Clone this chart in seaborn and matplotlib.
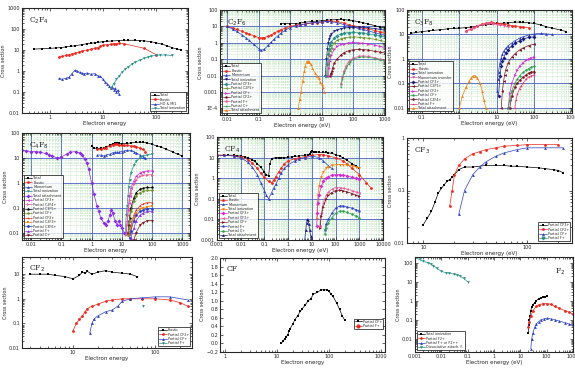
import matplotlib
matplotlib.use("Agg")
import math
import matplotlib.pyplot as plt
from matplotlib.ticker import FuncFormatter, LogLocator, NullFormatter
import seaborn as sns

# ---- C2F4 ----
C2F4_TOTAL_E = [0.5, 0.7, 1, 1.3, 1.6, 2, 2.5, 3, 4, 5, 6, 7, 8, 10, 12, 15, 20, 25, 30, 40, 50, 60, 80, 100, 130, 160, 200, 250, 300]
C2F4_TOTAL_CS = [11, 11.5, 12, 12.5, 13, 14, 15, 16, 18, 20, 21, 22, 23, 25, 26, 27, 28, 29, 29, 29, 28, 27, 25, 22, 19, 16, 13, 11, 10]
C2F4_ELASTIC_E = [1.5, 1.7, 2, 2.3, 2.6, 3, 3.5, 4, 5, 6, 7, 8, 9, 10, 12, 14, 16, 18, 20, 25, 60, 100]
C2F4_ELASTIC_CS = [4.8, 5, 5.5, 6, 6.5, 7, 8, 9, 10, 11, 12, 13, 15, 17, 18, 19, 20, 20, 21, 20, 12, 6]
C2F4_HO_E = [1.5, 1.7, 2, 2.3, 2.6, 3, 3.3, 3.7, 4, 4.5, 5, 6, 7, 8, 9, 10, 11, 12, 13, 14, 15, 16, 17, 18, 19, 20]
C2F4_HO_CS = [0.45, 0.4, 0.45, 0.5, 0.75, 1.1, 1.0, 0.85, 0.8, 0.75, 0.8, 0.7, 0.75, 0.6, 0.55, 0.4, 0.3, 0.25, 0.2, 0.15, 0.18, 0.13, 0.15, 0.1, 0.12, 0.08]
C2F4_ION_E = [14, 16, 18, 20, 23, 26, 30, 35, 40, 50, 60, 70, 80, 100, 120, 150, 200]
C2F4_ION_CS = [0.15, 0.25, 0.4, 0.55, 0.9, 1.2, 1.6, 2.1, 2.6, 3.3, 4, 4.6, 5, 5.6, 5.8, 5.8, 5.5]

# ---- C2F6 ----
C2F6_TOTAL_E = [0.5, 0.7, 1, 1.5, 2, 3, 5, 7, 10, 15, 20, 30, 40, 50, 70, 100, 150, 200, 300, 500, 700, 1000]
C2F6_TOTAL_CS = [15, 15, 15, 15, 16, 18, 20, 21, 22, 24, 25, 26, 27, 26, 24, 22, 19, 17, 14, 11, 9, 8]
C2F6_ELASTIC_E = [0.01, 0.015, 0.02, 0.03, 0.04, 0.05, 0.07, 0.1, 0.13, 0.15, 0.2, 0.25, 0.3, 0.4, 0.5, 0.7, 1, 1.5, 2, 3, 5, 7, 10, 15, 20, 30, 50, 70, 100, 150, 200, 300, 500, 700, 1000]
C2F6_ELASTIC_CS = [10, 8, 6.5, 5, 4, 3.4, 2.7, 2.1, 2.0, 2.1, 2.5, 3, 3.8, 5, 6.3, 8, 10, 12, 13, 14, 16, 17, 18, 20, 21, 20, 16, 13, 11, 9.5, 8, 7, 5.5, 4.8, 4]
C2F6_MOM_E = [0.01, 0.015, 0.02, 0.03, 0.04, 0.05, 0.07, 0.1, 0.12, 0.15, 0.2, 0.25, 0.3, 0.4, 0.5, 0.7, 1, 1.5, 2, 3, 5, 7, 10, 15, 20, 30, 50, 70, 100, 150, 200, 300, 500, 700, 1000]
C2F6_MOM_CS = [10, 7, 5, 3, 2, 1.4, 0.8, 0.45, 0.35, 0.4, 0.7, 1.1, 1.6, 2.6, 3.8, 6, 8.5, 11, 12.5, 14, 17, 18, 19, 20, 19, 17, 13, 11, 9, 7.5, 6.5, 5.3, 4, 3.4, 3]
C2F6_ION_E = [13, 14, 15, 16, 17, 18, 20, 25, 30, 40, 50, 70, 100, 150, 200, 300, 500, 700, 1000]
C2F6_ION_CS = [0.01, 0.1, 0.4, 1, 1.7, 2.5, 3.5, 5, 6, 7.3, 8, 8.5, 9, 9, 8.8, 8.3, 7.3, 6.5, 6]
C2F6_CF3_E = [14, 15, 16, 17, 18, 20, 25, 30, 40, 50, 70, 100, 150, 200, 300, 500, 700, 1000]
C2F6_CF3_CS = [0.01, 0.05, 0.2, 0.45, 0.7, 1.1, 2, 2.7, 3.5, 3.9, 4.2, 4.3, 4.2, 4, 3.6, 3, 2.6, 2.3]
C2F6_C2F5_E = [15, 16, 17, 18, 20, 25, 30, 40, 50, 70, 100, 150, 200, 300, 500, 700, 1000]
C2F6_C2F5_CS = [0.01, 0.05, 0.15, 0.3, 0.5, 1, 1.4, 1.8, 2, 2.2, 2.3, 2.2, 2.1, 1.9, 1.6, 1.4, 1.2]
C2F6_CF_E = [16, 17, 18, 20, 25, 30, 40, 50, 70, 100, 150, 200, 300, 500, 700, 1000]
C2F6_CF_CS = [0.01, 0.03, 0.08, 0.18, 0.4, 0.6, 0.8, 0.9, 1.0, 1.05, 1.0, 0.95, 0.85, 0.7, 0.6, 0.5]
C2F6_CF2_E = [18, 19, 20, 21, 22, 25, 30, 40, 50, 70, 100, 150, 200, 300, 500, 700, 1000]
C2F6_CF2_CS = [0.01, 0.012, 0.015, 0.02, 0.03, 0.06, 0.1, 0.18, 0.25, 0.33, 0.38, 0.4, 0.39, 0.36, 0.3, 0.27, 0.24]
C2F6_F_E = [40, 45, 50, 60, 70, 80, 100, 150, 200, 300, 500, 700, 1000]
C2F6_F_CS = [0.003, 0.008, 0.02, 0.04, 0.07, 0.09, 0.12, 0.15, 0.16, 0.15, 0.12, 0.1, 0.09]
C2F6_C_E = [40, 45, 50, 60, 70, 80, 100, 150, 200, 300, 500, 700, 1000]
C2F6_C_CS = [0.002, 0.006, 0.014, 0.03, 0.05, 0.07, 0.1, 0.13, 0.14, 0.13, 0.11, 0.09, 0.08]
C2F6_ATT_E = [1.8, 2, 2.2, 2.5, 2.8, 3, 3.3, 3.6, 4, 4.5, 5, 6, 7, 8, 9, 10, 11, 12]
C2F6_ATT_CS = [1e-4, 4e-4, 0.001, 0.005, 0.02, 0.04, 0.07, 0.08, 0.07, 0.05, 0.03, 0.015, 0.01, 0.007, 0.004, 0.003, 0.002, 0.001]

# ---- C3F8 ----
C3F8_TOTAL_E = [0.05, 0.07, 0.1, 0.15, 0.2, 0.3, 0.5, 0.7, 1, 1.5, 2, 3, 5, 7, 10, 15, 20, 30, 40, 50, 70, 100, 150, 200, 300, 500, 700]
C3F8_TOTAL_CS = [11, 12, 13, 14, 14.5, 15.5, 17, 17.5, 18, 19, 20, 22, 25, 27, 28, 29, 30, 32, 32, 31, 30, 28, 24, 21, 18, 15, 13]
C3F8_ELASTIC_E = [1.5, 2, 2.5, 3, 4, 5, 6, 7, 8, 10, 12, 15, 20, 25, 30, 40, 50, 70]
C3F8_ELASTIC_CS = [14, 17, 20, 23, 26, 28, 30, 31, 30, 28, 27, 26, 24, 23, 22, 21, 20, 19]
C3F8_MOM_E = [1.5, 2, 2.5, 3, 4, 5, 6, 7, 8, 10, 12, 15, 20]
C3F8_MOM_CS = [13, 16, 19, 22, 25, 27, 28, 28, 27, 25, 24, 23, 20]
C3F8_ION_E = [10, 10.5, 11, 12, 13, 14, 15, 17, 20, 25, 30, 40, 50, 70, 100, 150, 200, 300]
C3F8_ION_CS = [0.05, 0.15, 0.3, 0.7, 1.1, 1.6, 2, 2.7, 3.5, 4.5, 5.5, 7, 8, 9.5, 10.5, 11, 10.5, 10]
C3F8_CF3_E = [11, 12, 13, 14, 15, 17, 20, 25, 30, 40, 50, 70, 100]
C3F8_CF3_CS = [0.03, 0.2, 0.5, 0.8, 1.1, 1.7, 2.4, 3.4, 4.3, 5.5, 6.5, 7.5, 8]
C3F8_C2F5_E = [13, 14, 15, 16, 17, 20, 25, 30, 40, 50, 70, 100]
C3F8_C2F5_CS = [0.01, 0.05, 0.12, 0.22, 0.35, 0.7, 1.2, 1.6, 2.3, 2.8, 3.5, 4]
C3F8_CF2_E = [20, 22, 25, 30, 35, 40, 50, 60, 70, 80, 100]
C3F8_CF2_CS = [0.01, 0.04, 0.1, 0.22, 0.35, 0.5, 0.7, 0.9, 1.0, 1.1, 1.2]
C3F8_CF_E = [20, 22, 25, 30, 35, 40, 50, 60, 70, 80, 100]
C3F8_CF_CS = [0.01, 0.02, 0.05, 0.1, 0.15, 0.2, 0.28, 0.35, 0.4, 0.45, 0.5]
C3F8_C2F4_E = [22, 25, 30, 35, 40, 50, 60, 70, 80, 100]
C3F8_C2F4_CS = [0.01, 0.03, 0.07, 0.1, 0.13, 0.18, 0.22, 0.26, 0.28, 0.3]
C3F8_F_E = [30, 32, 35, 40, 45, 50, 60, 70, 80, 100]
C3F8_F_CS = [0.01, 0.02, 0.035, 0.06, 0.08, 0.1, 0.15, 0.18, 0.2, 0.22]
C3F8_ATT_E = [1, 1.2, 1.5, 1.8, 2, 2.3, 2.6, 3, 3.5, 4, 4.5, 5]
C3F8_ATT_CS = [0.01, 0.03, 0.07, 0.12, 0.16, 0.2, 0.2, 0.17, 0.1, 0.05, 0.02, 0.01]

# ---- c-C4F8 ----
C4F8_MOM_E = [0.005, 0.007, 0.01, 0.015, 0.02, 0.03, 0.04, 0.05, 0.07, 0.1, 0.15, 0.2, 0.3, 0.4, 0.5, 0.6, 0.7, 0.8, 1, 1.2, 1.5, 1.7, 2, 2.5, 3, 3.5, 4, 4.5, 5, 6, 7, 8, 9, 10, 12]
C4F8_MOM_CS = [20, 19, 18, 18, 17, 15, 13, 12, 10, 11, 14, 17, 18, 16, 13, 9, 6, 3.5, 1, 0.35, 0.12, 0.07, 0.04, 0.025, 0.02, 0.03, 0.05, 0.08, 0.06, 0.03, 0.02, 0.03, 0.02, 0.015, 0.01]
C4F8_TOTAL_E = [1, 1.2, 1.5, 2, 2.5, 3, 4, 5, 6, 7, 8, 10, 15, 20, 30, 40, 50, 70, 100, 150, 200, 300, 500, 700, 1000]
C4F8_TOTAL_CS = [30, 25, 24, 24, 25, 27, 32, 37, 40, 40, 38, 37, 38, 40, 42, 43, 42, 40, 35, 30, 27, 22, 17, 14, 12]
C4F8_ELASTIC_E = [1.5, 2, 2.5, 3, 4, 5, 6, 7, 8, 10, 12, 15, 20, 25, 30, 40, 50, 60]
C4F8_ELASTIC_CS = [22, 22, 24, 26, 30, 34, 36, 35, 33, 32, 32, 32, 30, 30, 28, 25, 22, 18]
C4F8_VIB_E = [1.5, 2, 2.5, 3, 4, 5, 6, 7, 8, 10, 12, 15, 20, 25, 30, 40, 50, 60]
C4F8_VIB_CS = [13, 13, 12, 13, 14, 16, 17, 17, 17, 18, 19, 20, 20, 18, 16, 13, 11, 10]
C4F8_ION_E = [13, 14, 15, 16, 17, 18, 20, 25, 30, 40, 50, 70, 100]
C4F8_ION_CS = [0.01, 0.05, 0.12, 0.3, 0.7, 1.3, 2.5, 5, 7.5, 10, 12, 13, 14]
C4F8_P1_E = [14, 15, 16, 17, 18, 20, 25, 30, 40, 50, 70, 100]
C4F8_P1_CS = [0.01, 0.03, 0.08, 0.15, 0.3, 0.6, 1.2, 1.8, 2.5, 2.8, 3, 3]
C4F8_P2_E = [14, 15, 16, 17, 18, 20, 25, 30, 40, 50, 70, 100]
C4F8_P2_CS = [0.008, 0.02, 0.05, 0.1, 0.2, 0.4, 0.9, 1.3, 1.8, 2, 2.1, 2.1]
C4F8_P3_E = [16, 17, 18, 20, 25, 30, 40, 50, 70, 100]
C4F8_P3_CS = [0.01, 0.02, 0.04, 0.1, 0.25, 0.4, 0.55, 0.6, 0.65, 0.65]
C4F8_P4_E = [16, 17, 18, 20, 25, 30, 40, 50, 70, 100]
C4F8_P4_CS = [0.008, 0.015, 0.03, 0.07, 0.18, 0.3, 0.4, 0.45, 0.5, 0.5]
C4F8_P5_E = [18, 20, 25, 30, 40, 50, 70, 100]
C4F8_P5_CS = [0.01, 0.02, 0.05, 0.08, 0.12, 0.14, 0.16, 0.16]
C4F8_P6_E = [18, 20, 25, 30, 40, 50, 70, 100]
C4F8_P6_CS = [0.008, 0.015, 0.04, 0.06, 0.09, 0.1, 0.11, 0.12]
C4F8_P7_E = [18, 20, 25, 30, 40, 50, 70, 100]
C4F8_P7_CS = [0.006, 0.012, 0.03, 0.05, 0.07, 0.08, 0.09, 0.09]
C4F8_P8_E = [20, 25, 30, 40, 50, 70, 100]
C4F8_P8_CS = [0.006, 0.015, 0.03, 0.05, 0.06, 0.07, 0.07]
C4F8_P9_E = [25, 30, 40, 50, 70, 100]
C4F8_P9_CS = [0.005, 0.01, 0.02, 0.025, 0.03, 0.03]

# ---- CF4 ----
CF4_TOTAL_E = [0.001, 0.002, 0.003, 0.005, 0.007, 0.01, 0.015, 0.02, 0.03, 0.04, 0.05, 0.07, 0.1, 0.12, 0.15, 0.17, 0.2, 0.3, 0.4, 0.5, 0.7, 1, 1.5, 2, 3, 5, 7, 8, 9, 10, 12, 15, 20, 30, 40, 50, 70, 100, 150, 200, 300, 500, 700, 1000]
CF4_TOTAL_CS = [13, 13, 13, 13, 12.5, 12, 11, 10, 8, 6.5, 5, 3.5, 2, 1.5, 1.3, 5, 9, 10, 10, 10, 10, 10.5, 11, 11.5, 12, 13, 14, 15, 19, 20, 19, 19, 18, 18, 18, 17, 16, 14, 12, 10, 7.5, 5, 4, 3]
CF4_ELASTIC_E = [0.001, 0.002, 0.005, 0.01, 0.02, 0.03, 0.05, 0.07, 0.1, 0.15, 0.2, 0.25, 0.3, 0.4, 0.5, 0.7, 1, 2, 3, 5, 10, 20, 30, 50, 100, 200, 300, 500, 1000, 2000, 3000]
CF4_ELASTIC_CS = [13, 13, 12.5, 11, 8, 5.5, 3, 1.8, 1.1, 0.7, 0.6, 0.8, 1.2, 2, 3, 5, 7, 9, 10, 11, 13, 14, 14, 12, 10, 7, 5, 3, 1.5, 0.6, 0.35]
CF4_MOM_E = [0.001, 0.002, 0.005, 0.01, 0.02, 0.03, 0.05, 0.07, 0.1, 0.12, 0.15, 0.2, 0.25, 0.3, 0.4, 0.5, 0.7, 1, 2, 3, 5, 10, 20, 30, 50, 70]
CF4_MOM_CS = [13, 13, 12, 10, 6, 3.5, 1.5, 0.6, 0.25, 0.15, 0.1, 0.2, 0.35, 0.5, 1, 1.8, 3, 4.5, 7, 8.5, 10, 12, 10, 7, 4, 3]
CF4_ION_E = [16, 17, 18, 20, 25, 30, 40, 50, 70, 100, 150, 200, 300, 500, 700, 1000]
CF4_ION_CS = [0.01, 0.05, 0.15, 0.4, 1.2, 2, 3, 3.6, 4.2, 4.5, 4.6, 4.6, 4.4, 4, 3.6, 3.2]
CF4_CF3_E = [16, 17, 18, 20, 25, 30, 40, 50, 70, 100, 150, 200, 300, 500, 700, 1000]
CF4_CF3_CS = [0.005, 0.02, 0.06, 0.15, 0.4, 0.7, 1.0, 1.2, 1.4, 1.5, 1.5, 1.4, 1.3, 1.1, 1.0, 0.9]
CF4_CF2_E = [22, 25, 30, 40, 50, 70, 100, 150, 200, 300, 500, 700, 1000]
CF4_CF2_CS = [0.005, 0.02, 0.06, 0.15, 0.22, 0.3, 0.35, 0.35, 0.33, 0.3, 0.25, 0.22, 0.2]
CF4_CF_E = [22, 25, 30, 40, 50, 70, 100, 150, 200, 300, 500, 700, 1000]
CF4_CF_CS = [0.004, 0.015, 0.04, 0.1, 0.15, 0.2, 0.25, 0.26, 0.25, 0.22, 0.18, 0.15, 0.13]
CF4_F_E = [35, 40, 50, 70, 100, 150, 200, 300, 500, 700, 1000]
CF4_F_CS = [0.003, 0.006, 0.01, 0.02, 0.035, 0.045, 0.045, 0.04, 0.035, 0.03, 0.025]
CF4_C_E = [35, 40, 50, 70, 100, 150, 200, 300, 500, 700, 1000]
CF4_C_CS = [0.002, 0.004, 0.007, 0.012, 0.02, 0.025, 0.025, 0.022, 0.018, 0.015, 0.012]
CF4_ATT_E = [5, 5.5, 6, 6.5, 7, 7.5, 8, 9, 10]
CF4_ATT_CS = [0.001, 0.003, 0.007, 0.01, 0.009, 0.006, 0.003, 0.0015, 0.001]

# ---- CF3 ----
CF3_CF3_E = [10, 11, 12, 13, 14, 15, 16, 17, 18, 19, 20, 22, 25, 30, 40, 50, 60, 70, 80, 100, 130, 150, 180, 200, 220]
CF3_CF3_CS = [0.022, 0.03, 0.04, 0.06, 0.09, 0.11, 0.13, 0.15, 0.16, 0.18, 0.2, 0.25, 0.28, 0.28, 0.3, 0.3, 0.3, 0.29, 0.29, 0.28, 0.27, 0.26, 0.25, 0.24, 0.22]
CF3_CF2_E = [18, 19, 20, 22, 25, 30, 35, 40, 50, 60, 80, 100, 150, 200]
CF3_CF2_CS = [0.05, 0.1, 0.2, 0.3, 0.4, 0.5, 0.55, 0.6, 0.65, 0.7, 0.72, 0.75, 0.75, 0.75]
CF3_CF_E = [22, 25, 30, 35, 40, 50, 60, 80, 100, 150, 220]
CF3_CF_CS = [0.035, 0.1, 0.2, 0.28, 0.35, 0.45, 0.52, 0.6, 0.65, 0.65, 0.65]

# ---- CF2 ----
CF2_ELASTIC_E = [3, 4, 5, 6, 8, 10, 12, 13, 14, 15, 17, 20, 25, 30, 40, 50, 60]
CF2_ELASTIC_CS = [10, 10, 10, 9, 8, 6.5, 9, 12, 11, 13, 10, 12, 14, 12, 11, 10, 8]
CF2_CF2_E = [10, 11, 12, 13, 14, 15, 17, 20, 25, 30, 40, 50, 70, 100, 150, 200, 250]
CF2_CF2_CS = [0.05, 0.1, 0.15, 0.2, 0.3, 0.4, 0.5, 0.6, 0.8, 0.9, 1, 1, 1, 1, 0.9, 0.7, 0.5]
CF2_CF_E = [16, 17, 18, 20, 25, 30, 35, 40, 50, 70, 100, 150, 250]
CF2_CF_CS = [0.04, 0.1, 0.15, 0.2, 0.3, 0.35, 0.5, 0.8, 1, 1.1, 1.2, 1.2, 0.9]
CF2_F_E = [71]
CF2_F_CS = [0.52]

# ---- CF ----
CF_CF_E = [12, 13, 14, 15, 16, 17, 18, 20, 22, 25, 28, 30, 35, 40, 45, 50, 60, 70, 80, 90, 100, 110, 120, 140, 160, 180, 200]
CF_CF_CS = [0, 0.05, 0.1, 0.15, 0.2, 0.28, 0.35, 0.45, 0.55, 0.65, 0.75, 0.8, 0.9, 1.0, 1.05, 1.15, 1.2, 1.25, 1.26, 1.25, 1.22, 1.15, 1.1, 0.95, 0.8, 0.65, 0.55]

# ---- F2 ----
F2_ATT_E = [0.001, 0.0015, 0.002, 0.003, 0.004, 0.005, 0.007, 0.01, 0.015, 0.02, 0.03, 0.04, 0.05, 0.07, 0.1]
F2_ATT_CS = [180, 150, 120, 100, 85, 70, 50, 35, 30, 28, 25, 22, 20, 15, 10]
F2_ION_E = [20, 21, 22, 23, 25, 27, 30, 35, 40, 50, 60, 70, 85, 100]
F2_ION_CS = [0.02, 0.05, 0.1, 0.15, 0.3, 0.45, 0.6, 0.8, 1.0, 1.3, 1.4, 1.5, 1.6, 1.7]
F2_F2_E = [20, 22, 25, 30, 40, 50, 70, 100, 150, 200, 300, 500, 700, 1000]
F2_F2_CS = [0.04, 0.08, 0.15, 0.3, 0.5, 0.6, 0.7, 0.7, 0.65, 0.5, 0.4, 0.3, 0.25, 0.2]
F2_F_E = [25, 27, 30, 35, 40, 50, 60, 80, 100, 150, 200, 300, 500, 700, 1000]
F2_F_CS = [0.003, 0.01, 0.02, 0.04, 0.06, 0.08, 0.1, 0.11, 0.12, 0.11, 0.1, 0.085, 0.07, 0.06, 0.05]

BLACK = "black"
RED = "#e8281e"
BLUE = "#2a3fc0"
TEAL = "#2a8f8a"
MAGENTA = "#d42ad4"
OLIVE = "#6b8e23"
NAVY = "#1a1a80"
MAROON = "#7a1020"
PINK = "#e85a9a"
GREEN = "#2e9e4e"
ORANGE = "#f08010"
PURPLE = "#8a2be2"

W, H = 575, 368


def make_axes(fig, left, right, top, bottom):
    return fig.add_axes([left / W, 1 - bottom / H, (right - left) / W, (bottom - top) / H])


def draw(ax, x, y, color, marker, label):
    sns.lineplot(x=x, y=y, ax=ax, color=color, marker=marker, markersize=2,
                 linewidth=0.5, markeredgewidth=0, label=label, errorbar=None)


def plain(v, pos):
    # decimal tick labels like the original (0.01, 0.1, 1, 10 ...), 1E-4 below
    if v <= 0:
        return "%g" % v
    if v < 0.001:
        return "1E%d" % round(math.log10(v))
    return "%g" % v


def style(ax, xlim, ylim, xlabel, title, logy=True, grid=False, loc="lower right"):
    ax.set_xscale("log")
    if logy:
        ax.set_yscale("log")
    ax.set_xlim(*xlim)
    ax.set_ylim(*ylim)
    ax.xaxis.set_major_locator(LogLocator(base=10, numticks=20))
    ax.xaxis.set_major_formatter(FuncFormatter(plain))
    ax.xaxis.set_minor_formatter(NullFormatter())
    if logy:
        ax.yaxis.set_major_locator(LogLocator(base=10, numticks=20))
        ax.yaxis.set_major_formatter(FuncFormatter(plain))
        ax.yaxis.set_minor_formatter(NullFormatter())
    ax.set_xlabel(xlabel, fontsize=4, labelpad=0.5)
    ax.set_ylabel("Cross section", fontsize=3.5, labelpad=1)
    ax.tick_params(which="both", direction="in", top=True, right=True,
                   labelsize=3.5, pad=1.5, width=0.5)
    ax.tick_params(which="major", length=2.5)
    ax.tick_params(which="minor", length=1.3)
    for s in ax.spines.values():
        s.set_linewidth(0.8)
    if grid:
        ax.grid(which="minor", color="#8fcf8f", linestyle=":", linewidth=0.4)
        ax.grid(which="major", color="#4a5fc1", linewidth=0.6)
        ax.set_axisbelow(True)
    ax.text(0.04, 0.93, title, transform=ax.transAxes, fontsize=5.5,
            family="DejaVu Serif", va="top", ha="left")
    leg = ax.legend(loc=loc, fontsize=2.4, frameon=True, fancybox=False,
                    edgecolor="black", borderpad=0.3, labelspacing=0.12,
                    handlelength=2.2, handletextpad=0.4)
    leg.get_frame().set_linewidth(0.6)


sns.set_style("ticks")
plt.rcParams["font.family"] = ["DejaVu Sans"]

fig = plt.figure(figsize=(5.75, 3.68), dpi=100)

# C2F4
ax = make_axes(fig, 22, 188, 8, 113)
draw(ax, C2F4_TOTAL_E, C2F4_TOTAL_CS, BLACK, "s", "Total")
draw(ax, C2F4_ELASTIC_E, C2F4_ELASTIC_CS, RED, "o", "Elastic")
draw(ax, C2F4_HO_E, C2F4_HO_CS, BLUE, "^", "HO & MI1")
draw(ax, C2F4_ION_E, C2F4_ION_CS, TEAL, "v", "Total ionization")
style(ax, (0.3, 400), (0.01, 1000), "Electron energy", "C$_2$F$_4$")

# C2F6
ax = make_axes(fig, 220, 385, 10, 115)
draw(ax, C2F6_TOTAL_E, C2F6_TOTAL_CS, BLACK, "s", "Total")
draw(ax, C2F6_ELASTIC_E, C2F6_ELASTIC_CS, RED, "o", "Elastic")
draw(ax, C2F6_MOM_E, C2F6_MOM_CS, BLUE, "^", "Momentum")
draw(ax, C2F6_ION_E, C2F6_ION_CS, NAVY, "v", "Total ionization")
draw(ax, C2F6_CF3_E, C2F6_CF3_CS, TEAL, "D", "Partial CF3+")
draw(ax, C2F6_C2F5_E, C2F6_C2F5_CS, OLIVE, "<", "Partial C2F5+")
draw(ax, C2F6_CF_E, C2F6_CF_CS, MAGENTA, ">", "Partial CF+")
draw(ax, C2F6_CF2_E, C2F6_CF2_CS, MAROON, "p", "Partial CF2+")
draw(ax, C2F6_F_E, C2F6_F_CS, PINK, "h", "Partial F+")
draw(ax, C2F6_C_E, C2F6_C_CS, GREEN, "*", "Partial C+")
draw(ax, C2F6_ATT_E, C2F6_ATT_CS, ORANGE, "^", "Total attachment")
style(ax, (0.006, 1000), (4e-5, 100), "Electron energy (eV)", "C$_2$F$_6$",
      grid=True, loc="lower left")

# C3F8
ax = make_axes(fig, 407, 572, 10, 113)
draw(ax, C3F8_TOTAL_E, C3F8_TOTAL_CS, BLACK, "s", "Total")
draw(ax, C3F8_ELASTIC_E, C3F8_ELASTIC_CS, RED, "o", "Elastic")
draw(ax, C3F8_ION_E, C3F8_ION_CS, BLUE, "^", "Total ionization")
draw(ax, C3F8_MOM_E, C3F8_MOM_CS, PINK, "v", "Momentum transfer")
draw(ax, C3F8_CF3_E, C3F8_CF3_CS, NAVY, "D", "Partial CF3+")
draw(ax, C3F8_C2F5_E, C3F8_C2F5_CS, MAROON, "<", "Partial C2F5+")
draw(ax, C3F8_CF2_E, C3F8_CF2_CS, MAGENTA, ">", "Partial CF2+")
draw(ax, C3F8_CF_E, C3F8_CF_CS, GREEN, "p", "Partial CF+")
draw(ax, C3F8_C2F4_E, C3F8_C2F4_CS, MAROON, "h", "Partial C2F4+")
draw(ax, C3F8_F_E, C3F8_F_CS, "#e0306a", "*", "Partial F+")
draw(ax, C3F8_ATT_E, C3F8_ATT_CS, ORANGE, "^", "Total attachment")
style(ax, (0.04, 1000), (0.006, 100), "Electron energy (eV)", "C$_3$F$_8$",
      grid=True, loc="lower left")

# c-C4F8
ax = make_axes(fig, 22, 190, 133, 240)
draw(ax, C4F8_TOTAL_E, C4F8_TOTAL_CS, BLACK, "s", "Total")
draw(ax, C4F8_ELASTIC_E, C4F8_ELASTIC_CS, RED, "o", "Elastic")
draw(ax, C4F8_VIB_E, C4F8_VIB_CS, BLUE, "^", "Momentum")
draw(ax, C4F8_ION_E, C4F8_ION_CS, TEAL, "v", "Total ionization")
draw(ax, C4F8_MOM_E, C4F8_MOM_CS, PURPLE, "D", "Total attachment")
draw(ax, C4F8_P1_E, C4F8_P1_CS, MAGENTA, "<", "Partial CF3+")
draw(ax, C4F8_P2_E, C4F8_P2_CS, PINK, ">", "Partial C2F4+")
draw(ax, C4F8_P3_E, C4F8_P3_CS, BLACK, "p", "Partial C3F5+")
draw(ax, C4F8_P4_E, C4F8_P4_CS, OLIVE, "h", "Partial CF+")
draw(ax, C4F8_P5_E, C4F8_P5_CS, RED, "*", "Partial CF2+")
draw(ax, C4F8_P6_E, C4F8_P6_CS, ORANGE, "s", "Partial C2F3+")
draw(ax, C4F8_P7_E, C4F8_P7_CS, BLUE, "o", "Partial C3F6+")
draw(ax, C4F8_P8_E, C4F8_P8_CS, PURPLE, "^", "Partial F+")
draw(ax, C4F8_P9_E, C4F8_P9_CS, MAROON, "v", "Partial C+")
style(ax, (0.005, 1800), (0.005, 100), "Electron energy", "C$_4$F$_8$",
      grid=True, loc="lower left")

# CF4
ax = make_axes(fig, 217, 383, 137, 240)
draw(ax, CF4_TOTAL_E, CF4_TOTAL_CS, BLACK, "s", "Total")
draw(ax, CF4_ELASTIC_E, CF4_ELASTIC_CS, RED, "o", "Elastic")
draw(ax, CF4_MOM_E, CF4_MOM_CS, BLUE, "^", "Momentum")
draw(ax, CF4_ION_E, CF4_ION_CS, ORANGE, "v", "Total ionization")
draw(ax, CF4_CF3_E, CF4_CF3_CS, MAGENTA, "D", "Partial CF3+")
draw(ax, CF4_CF2_E, CF4_CF2_CS, PINK, "<", "Partial CF2+")
draw(ax, CF4_CF_E, CF4_CF_CS, MAROON, ">", "Partial CF+")
draw(ax, CF4_F_E, CF4_F_CS, BLUE, "p", "Partial F+")
draw(ax, CF4_C_E, CF4_C_CS, GREEN, "h", "Partial C+")
draw(ax, CF4_ATT_E, CF4_ATT_CS, NAVY, "^", "Total attachment")
style(ax, (0.001, 10000), (0.001, 100), "Electron energy (eV)", "CF$_4$",
      grid=True, loc="lower left")

# CF3
ax = make_axes(fig, 407, 572, 138, 243)
draw(ax, CF3_CF3_E, CF3_CF3_CS, BLACK, "s", "Partial CF3+")
draw(ax, CF3_CF2_E, CF3_CF2_CS, RED, "o", "Partial CF2+")
draw(ax, CF3_CF_E, CF3_CF_CS, BLUE, "^", "Partial CF+")
ax.plot([], [], color=TEAL, marker="v", markersize=2, linewidth=0.5, label="Partial F+")
style(ax, (7, 270), (0.01, 1), "Electron energy (eV)", "CF$_3$")

# CF2
ax = make_axes(fig, 22, 192, 257, 348)
draw(ax, CF2_ELASTIC_E, CF2_ELASTIC_CS, BLACK, "s", "Elastic")
draw(ax, CF2_CF2_E, CF2_CF2_CS, RED, "o", "Partial CF2+")
draw(ax, CF2_CF_E, CF2_CF_CS, BLUE, "^", "Partial CF+")
draw(ax, CF2_F_E, CF2_F_CS, TEAL, "v", "Partial F+")
style(ax, (2.4, 280), (0.01, 50), "Electron energy", "CF$_2$")

# CF
ax = make_axes(fig, 220, 385, 258, 352)
draw(ax, CF_CF_E, CF_CF_CS, BLACK, "s", "Partial CF+")
ax.plot([], [], color=RED, marker="o", markersize=2, linewidth=0.5, label="Partial F+")
style(ax, (0.8, 1200), (-0.2, 2.0), "Electron energy", "CF", logy=False, loc="center right")
ax.set_yticks([-0.2, 0, 0.2, 0.4, 0.6, 0.8, 1.0, 1.2, 1.4, 1.6, 1.8, 2.0])
ax.legend_.set_bbox_to_anchor((1.0, 0.3))

# F2
ax = make_axes(fig, 415, 573, 257, 352)
draw(ax, F2_ION_E, F2_ION_CS, BLACK, "s", "Total ionization")
draw(ax, F2_F2_E, F2_F2_CS, RED, "o", "Partial F2+")
draw(ax, F2_F_E, F2_F_CS, BLUE, "^", "Partial F+ or F2++")
draw(ax, F2_ATT_E, F2_ATT_CS, TEAL, "v", "Dissociative attach. F-")
style(ax, (0.001, 1000), (0.002, 200), "Electron energy (eV)", "", loc="lower left")
ax.text(0.95, 0.9, "F$_2$", transform=ax.transAxes, fontsize=5.5,
        family="DejaVu Serif", va="top", ha="right")

fig.savefig("out.png", dpi=100, facecolor="white")
